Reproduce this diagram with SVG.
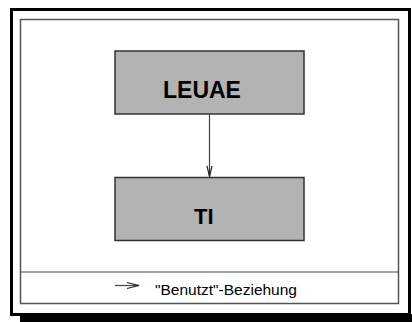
<svg xmlns="http://www.w3.org/2000/svg" width="412" height="322" viewBox="0 0 412 322">
  <style>
    .frame { fill: none; stroke: #000; stroke-width: 3; }
    .panel { fill: #fff; stroke: #555; stroke-width: 1.5; }
    .box { fill: #b3b3b3; stroke: #333; stroke-width: 1.5; }
    .label { font-family: "Liberation Sans", Arial, sans-serif; font-weight: bold; fill: #000; }
    .legend { font-family: "Liberation Sans", Arial, sans-serif; font-size: 15.5px; fill: #000; }
    .edge { fill: none; stroke: #444; stroke-width: 1.2; }
    .head { fill: none; stroke: #222; stroke-width: 1.2; }
  </style>

  <rect x="0" y="0" width="412" height="322" fill="#fff"/>

  <!-- outer frame with drop shadow -->
  <rect x="20" y="314" width="392" height="8" fill="#000"/>
  <rect class="frame" x="11.5" y="9.5" width="398" height="305"/>

  <!-- inner panel and legend divider -->
  <rect class="panel" x="20.5" y="19.5" width="378" height="284"/>
  <line x1="20.5" y1="272" x2="398.5" y2="272" stroke="#444" stroke-width="1.2"/>

  <g id="node-leuae">
    <rect class="box" x="115" y="51" width="189" height="63"/>
    <text class="label" x="163" y="98" font-size="23">LEUAE</text>
  </g>

  <g id="node-ti">
    <rect class="box" x="115" y="177.5" width="189" height="63"/>
    <text class="label" x="194" y="224" font-size="22">TI</text>
  </g>

  <g id="connectors">
    <line class="edge" x1="209.5" y1="114.5" x2="209.5" y2="177"/>
    <polyline class="head" points="207,166 209.5,176.5 212,166"/>
  </g>

  <g id="legend">
    <line class="edge" x1="115" y1="285.5" x2="139" y2="285.5" stroke="#000"/>
    <polyline class="head" points="127,282.5 139,285.5 127,288.5" stroke="#000"/>
    <text class="legend" x="155" y="295">"Benutzt"-Beziehung</text>
  </g>
</svg>
